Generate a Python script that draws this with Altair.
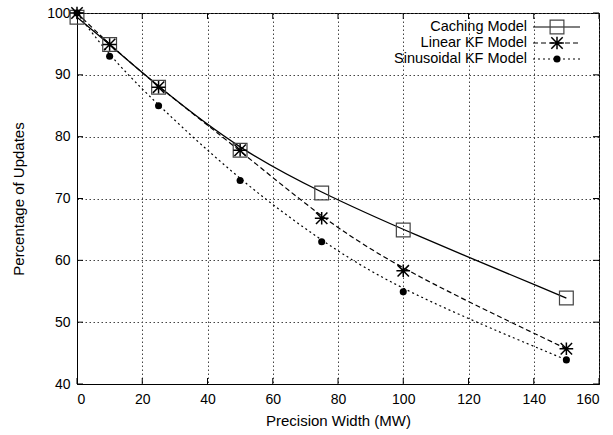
import altair as alt
import pandas as pd

# ---- data ----
precision = [0, 10, 25, 50, 75, 100, 150]
caching = [99.3, 94.9, 88.0, 77.8, 70.9, 64.9, 53.9]
linear_kf = [100.0, 94.9, 88.0, 77.8, 66.8, 58.3, 45.7]
sinusoidal_kf = [100.0, 93.0, 85.0, 72.9, 63.0, 54.9, 43.9]
series_names = ["Caching Model", "Linear KF Model", "Sinusoidal KF Model"]
x_ticks = [0, 20, 40, 60, 80, 100, 120, 140, 160]
y_ticks = [40, 50, 60, 70, 80, 90, 100]

W, H = 522, 371
FONT = "Liberation Sans"
STAR = "M-1,-1L1,1M-1,1L1,-1M-1.2,0L1.2,0M0,-1.1L0,1.1"

df_c = pd.DataFrame({"x": precision, "y": caching})
df_l = pd.DataFrame({"x": precision, "y": linear_kf})
df_s = pd.DataFrame({"x": precision, "y": sinusoidal_kf})

xs = alt.Scale(domain=[0, 160], nice=False, zero=False)
ys = alt.Scale(domain=[40, 100], nice=False, zero=False)

X = alt.X("x:Q", scale=xs, title="Precision Width (MW)",
          axis=alt.Axis(values=x_ticks, grid=True, gridDash=[1.5, 2.5], gridColor="#444",
                        gridOpacity=1, tickSize=0, labelPadding=8, titlePadding=7,
                        domainColor="black", labelFont=FONT, labelFontSize=14,
                        titleFont=FONT, titleFontSize=15, titleFontWeight="normal",
                        labelColor="black", titleColor="black"))
Y = alt.Y("y:Q", scale=ys, title="Percentage of Updates",
          axis=alt.Axis(values=y_ticks, grid=True, gridDash=[1.5, 2.5], gridColor="#444",
                        gridOpacity=1, tickSize=0, labelPadding=7, titlePadding=20,
                        domainColor="black", labelFont=FONT, labelFontSize=14,
                        titleFont=FONT, titleFontSize=15, titleFontWeight="normal",
                        labelColor="black", titleColor="black"))

base_c = alt.Chart(df_c)
base_l = alt.Chart(df_l)
base_s = alt.Chart(df_s)

line_c = base_c.mark_line(color="black", strokeWidth=1.3, interpolate="basis").encode(x=X, y=Y)
line_l = base_l.mark_line(color="black", strokeWidth=1.2, strokeDash=[5, 3], interpolate="basis").encode(x=X, y=Y)
line_s = base_s.mark_line(color="black", strokeWidth=1.2, strokeDash=[2, 3], interpolate="basis").encode(x=X, y=Y)

pt_c = base_c.mark_point(shape="square", size=190, filled=False, color="#444", strokeWidth=1.2, opacity=1).encode(x=X, y=Y)
pt_l = base_l.mark_point(shape=STAR, size=130, filled=False, color="black", strokeWidth=1.5, opacity=1).encode(x=X, y=Y)
pt_s = base_s.mark_point(shape="circle", size=50, filled=True, color="black", opacity=1).encode(x=X, y=Y)

# inward tick marks on all four sides
dfx = pd.DataFrame({"x": x_ticks})
dfy = pd.DataFrame({"y": y_ticks})
tick_bot = alt.Chart(dfx).mark_rule(color="black", strokeWidth=1).encode(
    x=alt.X("x:Q", scale=xs), y=alt.value(H - 6), y2=alt.value(H))
tick_top = alt.Chart(dfx).mark_rule(color="black", strokeWidth=1).encode(
    x=alt.X("x:Q", scale=xs), y=alt.value(0), y2=alt.value(6))
tick_left = alt.Chart(dfy).mark_rule(color="black", strokeWidth=1).encode(
    y=alt.Y("y:Q", scale=ys), x=alt.value(0), x2=alt.value(6))
tick_right = alt.Chart(dfy).mark_rule(color="black", strokeWidth=1).encode(
    y=alt.Y("y:Q", scale=ys), x=alt.value(W - 6), x2=alt.value(W))

# legend (gnuplot style: label left, sample right)
leg_df = pd.DataFrame({"name": series_names})
rows = [14, 30, 46]
leg_layers = []
styles = [
    dict(dash=[1, 0], shape="square", size=190, filled=False, color="#444", sw=1.2),
    dict(dash=[5, 3], shape=STAR, size=130, filled=False, color="black", sw=1.5),
    dict(dash=[2, 3], shape="circle", size=50, filled=True, color="black", sw=1),
]
for i, name in enumerate(series_names):
    sub = alt.Chart(leg_df).transform_filter(alt.datum.name == name)
    st = styles[i]
    leg_layers.append(sub.mark_text(align="right", baseline="middle", font=FONT, fontSize=14.5, color="black").encode(
        text="name:N", x=alt.value(450), y=alt.value(rows[i])))
    leg_layers.append(sub.mark_rule(color="black", strokeWidth=1.2, strokeDash=st["dash"]).encode(
        x=alt.value(456), x2=alt.value(503), y=alt.value(rows[i])))
    leg_layers.append(sub.mark_point(shape=st["shape"], size=st["size"], filled=st["filled"],
                                     color=st["color"], strokeWidth=st["sw"], opacity=1).encode(
        x=alt.value(480), y=alt.value(rows[i])))

chart = alt.layer(
    line_c, line_l, line_s,
    tick_bot, tick_top, tick_left, tick_right,
    pt_c, pt_l, pt_s,
    *leg_layers,
).properties(
    width=W, height=H,
    autosize=alt.AutoSizeParams(type="none"),
    padding={"left": 77, "top": 13, "right": 14, "bottom": 51},
    background="white",
).configure_view(stroke="black", strokeWidth=1)

chart.save("out.html", embed_options={"renderer": "svg", "actions": False})
